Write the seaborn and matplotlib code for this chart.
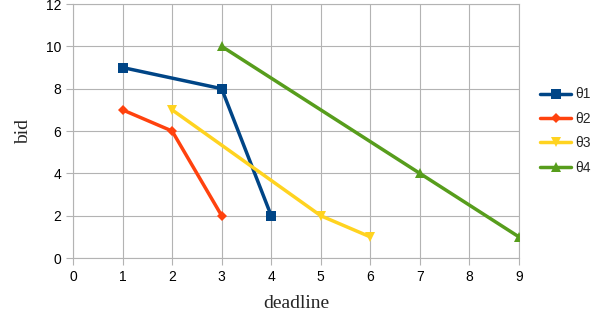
import matplotlib
matplotlib.use('Agg')
import matplotlib.pyplot as plt
import pandas as pd
import seaborn as sns

# series data
series = ['θ1', 'θ2', 'θ3', 'θ4']
deadline_t1 = [1, 3, 4]
bid_t1 = [9, 8, 2]
deadline_t2 = [1, 2, 3]
bid_t2 = [7, 6, 2]
deadline_t3 = [2, 5, 6]
bid_t3 = [7, 2, 1]
deadline_t4 = [3, 7, 9]
bid_t4 = [10, 4, 1]

x_ticks = list(range(0, 10))
y_ticks = list(range(0, 13, 2))

frames = []
for name, xs, ys in zip(series,
                        [deadline_t1, deadline_t2, deadline_t3, deadline_t4],
                        [bid_t1, bid_t2, bid_t3, bid_t4]):
    frames.append(pd.DataFrame({'deadline': xs, 'bid': ys, 'series': name}))
df = pd.concat(frames, ignore_index=True)

colors = {'θ1': '#004586', 'θ2': '#ff420e', 'θ3': '#ffd320', 'θ4': '#579d1c'}
markers = {'θ1': 's', 'θ2': 'D', 'θ3': 'v', 'θ4': '^'}
sizes = {'θ1': 7, 'θ2': 5, 'θ3': 7, 'θ4': 7}

sns.set_style('white')
plt.rcParams['font.family'] = ['Liberation Sans', 'DejaVu Sans']

fig = plt.figure(figsize=(6.06, 3.21), dpi=100)
ax = fig.add_axes([0.1205, 0.196, 0.7359, 0.7915])

for name in series:
    sub = df[df['series'] == name]
    sns.lineplot(data=sub, x='deadline', y='bid', ax=ax, color=colors[name],
                 marker=markers[name], markersize=sizes[name], markeredgewidth=0,
                 linewidth=2.5, label=name, zorder=3)

ax.set_xlim(0, 9)
ax.set_ylim(0, 12)
ax.set_xticks(x_ticks)
ax.set_yticks(y_ticks)
ax.grid(True, color='#b3b3b3', linewidth=0.8)
for s in ax.spines.values():
    s.set_color('#b3b3b3')
    s.set_linewidth(0.8)
ax.tick_params(axis='both', colors='#b3b3b3', labelcolor='black', length=5,
               width=0.8, labelsize=10, direction='out', bottom=True, left=True)

ax.set_xlabel('deadline', family=['Liberation Serif'], fontsize=14, labelpad=8)
ax.set_ylabel('bid', family=['Liberation Serif'], fontsize=14, labelpad=10)

ax.legend(loc='center left', bbox_to_anchor=(1.02, 0.5), frameon=False,
          fontsize=10, handlelength=2.2, handletextpad=0.3, labelspacing=0.75)

fig.savefig('out.png', dpi=100)
plt.close(fig)
